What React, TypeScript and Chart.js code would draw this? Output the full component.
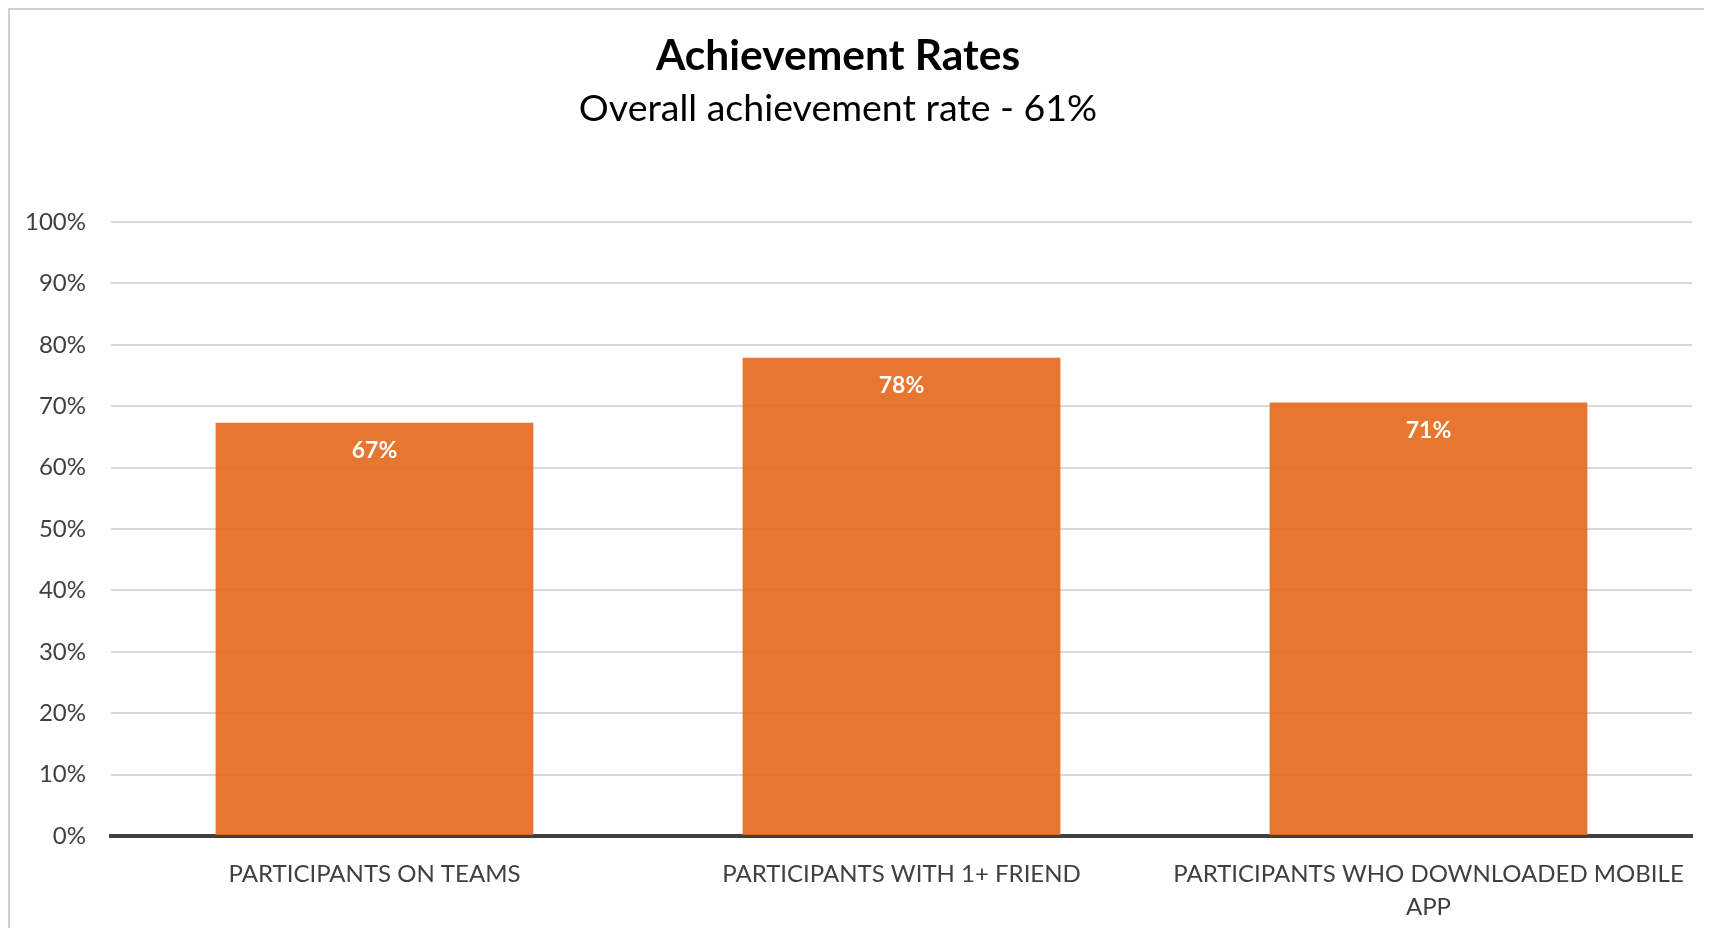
import React, { useEffect, useRef } from 'react';
import { Chart, registerables } from 'chart.js';

Chart.register(...registerables);

const categories: (string | string[])[] = [
  'PARTICIPANTS ON TEAMS',
  'PARTICIPANTS WITH 1+ FRIEND',
  ['PARTICIPANTS WHO DOWNLOADED MOBILE', 'APP'],
];
const rates = [67.3, 77.9, 70.6];
const yTickLabels = ['0%', '10%', '20%', '30%', '40%', '50%', '60%', '70%', '80%', '90%', '100%'];
const titleText = 'Achievement Rates';
const subtitleText = 'Overall achievement rate - 61%';

const FONT = 'Lato, "Open Sans", sans-serif';

const valueLabels = {
  id: 'valueLabels',
  afterDatasetsDraw(chart: any) {
    const ctx = chart.ctx;
    const meta = chart.getDatasetMeta(0);
    ctx.save();
    ctx.font = `bold 23px ${FONT}`;
    ctx.fillStyle = '#ffffff';
    ctx.textAlign = 'center';
    ctx.textBaseline = 'middle';
    meta.data.forEach((el: any, i: number) => {
      const v = chart.data.datasets[0].data[i] as number;
      ctx.fillText(`${Math.round(v)}%`, el.x, el.y + 28);
    });
    ctx.restore();
  },
};

const titleShift = {
  id: 'titleShift',
  afterLayout(chart: any) {
    chart.boxes.forEach((b: any) => {
      if (b.position === 'top' && b.axis === undefined) {
        b.right -= 26;
        b.width -= 26;
      }
    });
  },
};

export default function App() {
  const ref = useRef<HTMLCanvasElement | null>(null);

  useEffect(() => {
    if (!ref.current) return;
    const chart = new Chart(ref.current, {
      type: 'bar',
      data: {
        labels: categories,
        datasets: [
          {
            data: rates,
            backgroundColor: 'rgba(228,106,30,0.92)',
            borderWidth: 0,
            barPercentage: 1,
            categoryPercentage: 0.603,
          },
        ],
      },
      plugins: [valueLabels, titleShift],
      options: {
        responsive: false,
        animation: false,
        layout: { padding: { left: 0, right: 20, top: 0, bottom: 0 } },
        plugins: {
          legend: { display: false },
          tooltip: { enabled: false },
          title: {
            display: true,
            text: titleText,
            color: '#000000',
            font: { family: FONT, size: 42.5, weight: 'bold', lineHeight: 1.2 },
            padding: { top: 20.5, bottom: 0 },
          },
          subtitle: {
            display: true,
            text: subtitleText,
            color: '#000000',
            font: { family: FONT, size: 37.5, weight: 'normal', lineHeight: 1.2 },
            padding: { top: 5, bottom: 90.5 },
          },
        },
        scales: {
          x: {
            grid: { display: false, drawTicks: false },
            border: { display: true, color: '#404040', width: 4 },
            ticks: {
              color: '#404040',
              padding: 21.5,
              maxRotation: 0,
              autoSkip: false,
              font: { family: FONT, size: 24, lineHeight: 1.375 },
            },
            afterFit: (s: any) => {
              s.height = 92;
              s.paddingLeft = 0;
              s.paddingRight = 0;
            },
          },
          y: {
            min: 0,
            max: 100,
            grid: { color: '#d9d9d9', lineWidth: 2, drawTicks: false },
            border: { display: false },
            ticks: {
              stepSize: 10,
              color: '#404040',
              padding: 25,
              font: { family: FONT, size: 24 },
              callback: (_v: any, i: number) => yTickLabels[i],
            },
            afterFit: (s: any) => {
              s.width = 101;
              s.paddingTop = 0;
              s.paddingBottom = 0;
            },
          },
        },
      },
    });
    return () => chart.destroy();
  }, []);

  return (
    <div
      style={{
        width: 1702,
        height: 918,
        borderLeft: '2px solid #d0d0d0',
        borderTop: '2px solid #d0d0d0',
        background: '#ffffff',
      }}
    >
      <canvas ref={ref} width={1702} height={918} style={{ display: 'block' }} />
    </div>
  );
}
